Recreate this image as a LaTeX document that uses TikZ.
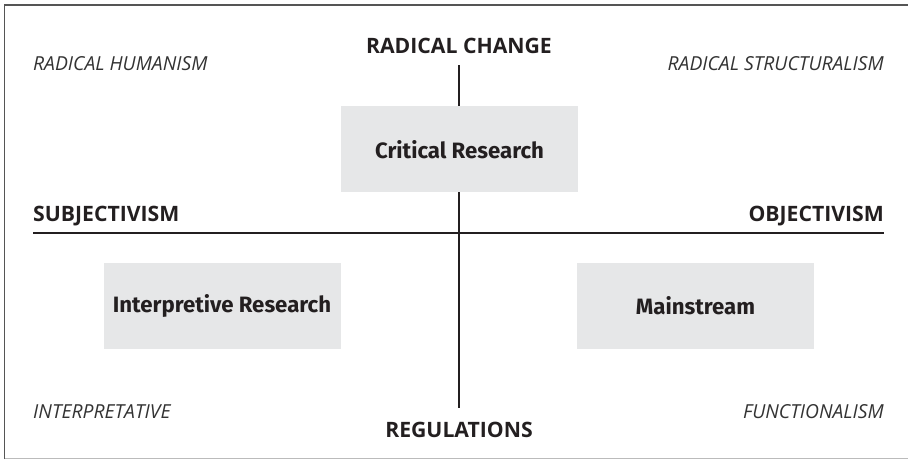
\documentclass[tikz,border=0pt]{standalone}
\usepackage{fontspec}
\setmainfont{Open Sans}
\newfontfamily\boxfont{Fira Sans}
\definecolor{ink}{HTML}{231F20}
\definecolor{boxgray}{HTML}{E6E7E8}
\definecolor{framedark}{HTML}{555555}
\definecolor{framelight}{HTML}{BBBBBB}
\definecolor{labelgray}{HTML}{333333}
\begin{document}
\begin{tikzpicture}[x=1pt,y=-1pt,
  axislabel/.style={inner sep=0pt, anchor=base, text=ink, font=\fontsize{21.2}{21.2}\selectfont\bfseries},
  quadlabel/.style={inner sep=0pt, text=labelgray, font=\fontsize{19.3}{19.3}\selectfont\itshape},
  paradigm/.style={fill=boxgray, draw=none, minimum width=237pt, minimum height=86pt,
    inner sep=0pt, text=ink, font=\boxfont\fontsize{22.2}{22.2}\selectfont\bfseries},
  axisline/.style={draw=ink, line width=1.8pt}]
\useasboundingbox (0,0) rectangle (908,459);
\fill[white] (0,0) rectangle (908,459);
% outer frame (open on the right)
\draw[framedark, line width=1.5pt] (4.5,459) -- (4.5,5) -- (908,5);
\draw[framelight, line width=1pt] (4.5,458) -- (908,458);

% axis end points
\coordinate (vtop) at (459,65);
\coordinate (vbot) at (459,407.5);
\coordinate (hleft) at (33,233);
\coordinate (hright) at (884,233);
\draw[axisline] (vtop) -- (vbot);
\draw[axisline] (hleft) -- (hright);

% paradigm boxes
\node[paradigm] (critical) at (459.5,149.3) {Critical Research};
\node[paradigm] (interpretive) at (222,306) {Interpretive Research};
\node[paradigm] (mainstream) at (695.5,306) {Mainstream};

% axis labels
\node[axislabel] (radchange) at (459,53.3) {RADICAL CHANGE};
\node[axislabel] (regulations) at (459,437) {REGULATIONS};
\node[axislabel, anchor=base west] (subj) at (33,221.7) {SUBJECTIVISM};
\node[axislabel, anchor=base east] (obj) at (884,221.7) {OBJECTIVISM};

% quadrant labels
\node[quadlabel, anchor=base west] (radhum) at (33,70) {RADICAL HUMANISM};
\node[quadlabel, anchor=base east] (radstruct) at (884,70) {RADICAL STRUCTURALISM};
\node[quadlabel, anchor=base west] (interp) at (33,418) {INTERPRETATIVE};
\node[quadlabel, anchor=base east] (func) at (884,418) {FUNCTIONALISM};
\end{tikzpicture}
\end{document}
